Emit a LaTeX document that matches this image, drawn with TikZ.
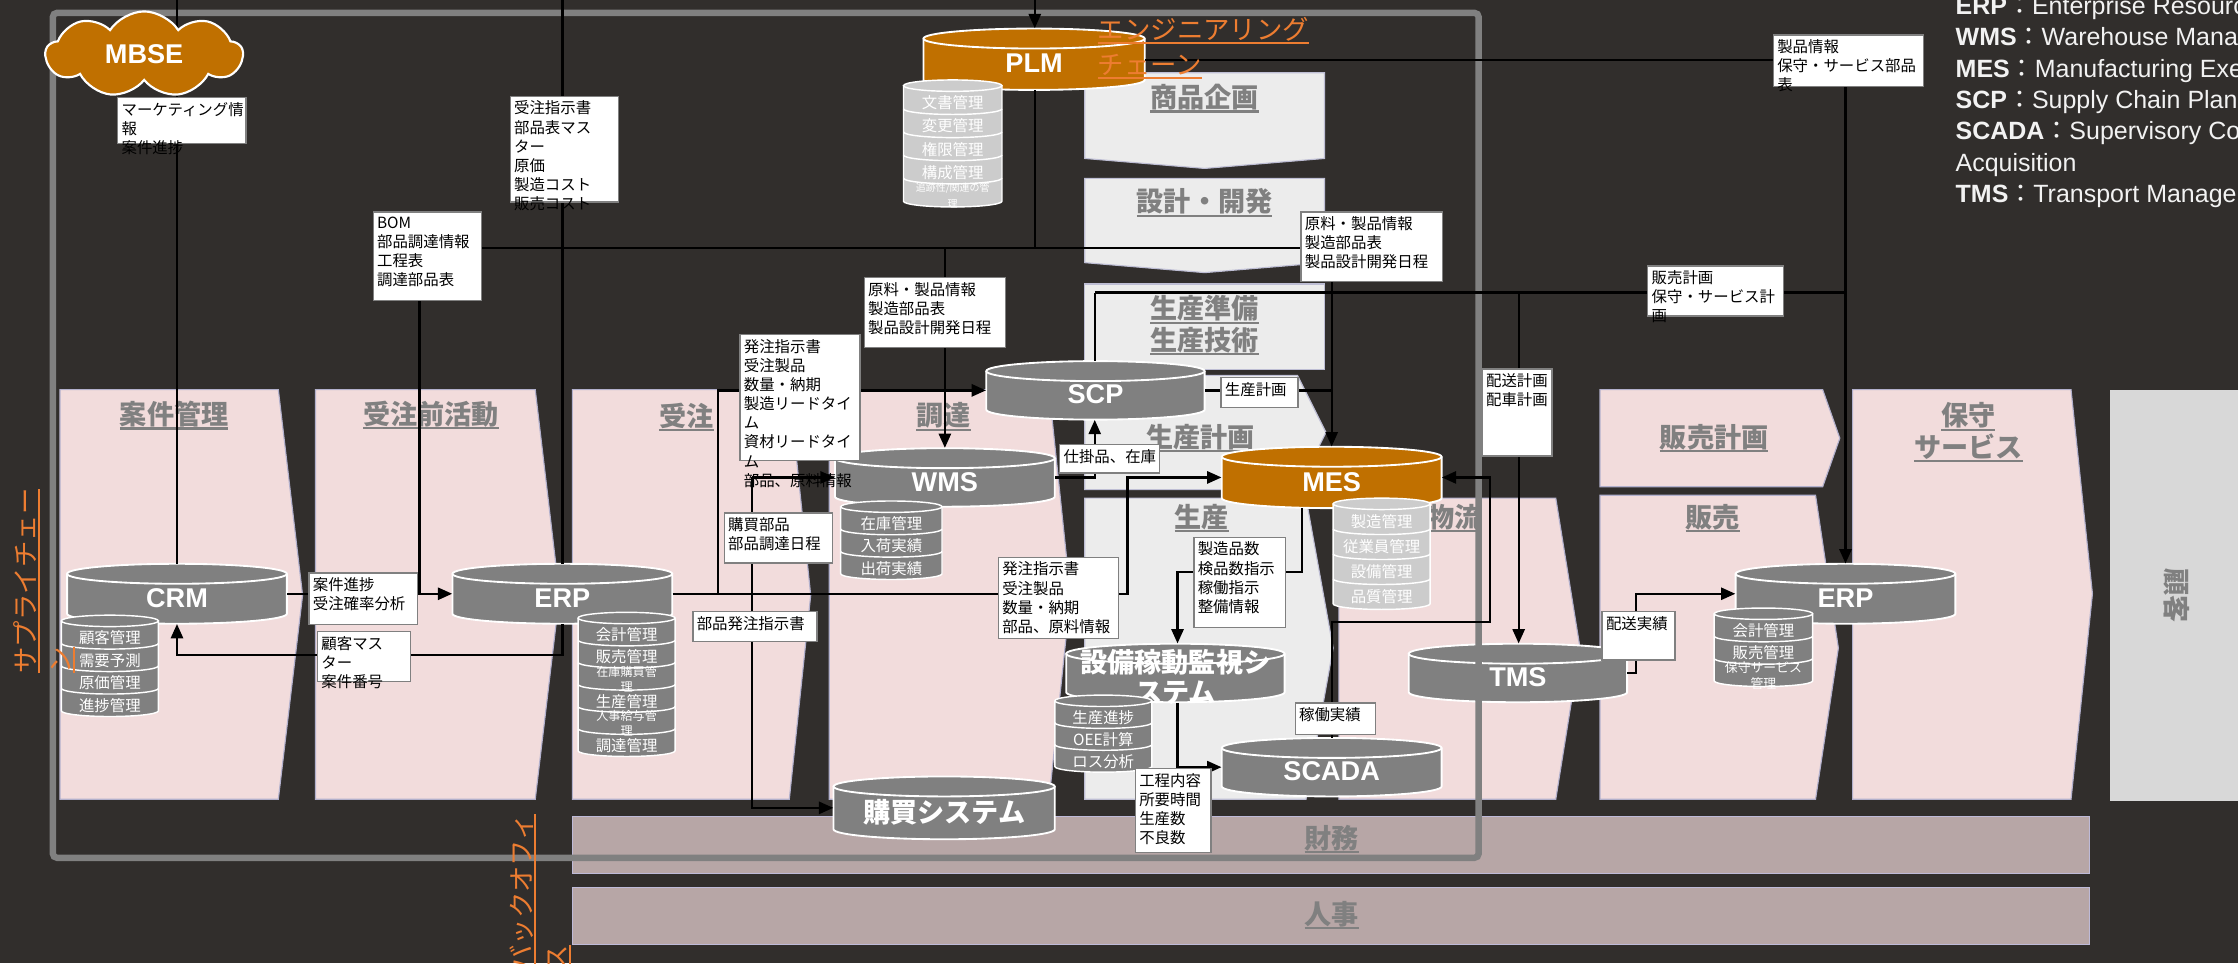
\documentclass[tikz,border=0pt]{standalone}
\usepackage{fontspec}
\setmainfont{Liberation Sans}
\newfontfamily\jp{Noto Sans CJK JP}
\usetikzlibrary{arrows.meta,shapes.symbols,calc}
\pgfdeclarelayer{bg}
\pgfdeclarelayer{fg}
\pgfsetlayers{bg,main,fg}
\definecolor{bgc}{RGB}{49,46,44}
\definecolor{pinkc}{RGB}{242,220,220}
\definecolor{pinkedge}{RGB}{178,176,204}
\definecolor{engc}{RGB}{236,236,236}
\definecolor{engedge}{RGB}{190,190,212}
\definecolor{barc}{RGB}{183,166,166}
\definecolor{baredge}{RGB}{190,186,216}
\definecolor{kokyc}{RGB}{216,216,216}
\definecolor{cylgray}{RGB}{128,128,128}
\definecolor{orangec}{RGB}{192,112,0}
\definecolor{subgray}{RGB}{204,204,204}
\definecolor{txtgray}{RGB}{128,128,128}
\definecolor{orangetxt}{RGB}{237,125,49}
\definecolor{framec}{RGB}{128,128,128}
\definecolor{lblgray}{RGB}{128,128,128}
\definecolor{legendc}{RGB}{242,242,242}
\newcommand\myul[1]{\leavevmode\setbox0=\hbox{#1}\rlap{\rule[-3.4pt]{\wd0}{1.5pt}}\box0}
\tikzset{
 conn/.style={draw=black,line width=1.6pt},
 arr/.style={-{Triangle[length=10pt,width=8.5pt]}},
 cylline/.style={draw=white,line width=1.3pt},
 stline/.style={draw=white,line width=1pt},
 cyltext/.style={text=white,font=\bfseries\fontsize{19}{21}\selectfont,align=center,inner sep=0},
 stacktext/.style={text=white,font=\jp\fontsize{10.8}{11}\selectfont,inner sep=0,align=center},
 lblbox/.style={draw=lblgray,fill=white,line width=0.9pt,inner sep=0},
 lbltext/.style={text=black,font=\jp\fontsize{10.8}{13.4}\selectfont,align=left,inner sep=0},
 pinkbox/.style={fill=pinkc,draw=pinkedge,line width=0.8pt},
 graybox/.style={fill=engc,draw=engedge,line width=0.8pt},
 barbox/.style={fill=barc,draw=baredge,line width=0.8pt},
 proclbl/.style={text=txtgray,font=\jp\bfseries\fontsize{19}{22}\selectfont,align=center,inner sep=0},
 orangelbl/.style={text=orangetxt,font=\jp\fontsize{18.5}{24.5}\selectfont,align=left,inner sep=0},
 legend/.style={text=legendc,font=\fontsize{17.5}{20}\selectfont,inner sep=0},
}
\newcommand\mycyl[7]{%
 \pgfmathsetmacro\mcX{(#2+#4)/2}%
 \pgfmathsetmacro\mcR{(#4-#2)/2}%
 \pgfmathsetmacro\mcT{#3+7}%
 \pgfmathsetmacro\mcB{#5-7}%
 \pgfmathsetmacro\mcY{(#3+#5)/2}%
 \pgfmathsetmacro\mcW{#4-#2}%
 \pgfmathsetmacro\mcH{#5-#3}%
 \fill[#6] (#2,\mcT) -- (#2,\mcB) arc[start angle=180,end angle=0,x radius=\mcR,y radius=7] -- (#4,\mcT) -- cycle;
 \draw[cylline] (#4,\mcT) -- (#4,\mcB) arc[start angle=0,end angle=180,x radius=\mcR,y radius=7] -- (#2,\mcT);
 \filldraw[#6,cylline] (\mcX,\mcT) ellipse[x radius=\mcR,y radius=7];
 \node[inner sep=0,minimum width=\mcW pt,minimum height=\mcH pt] (#1) at (\mcX,\mcY) {};
 \node[cyltext] (#1-t) at ({\mcX},{\mcY+3}) {#7};
}
\newcommand\mystack[7]{%
 \pgfmathsetmacro\msX{(#1+#3)/2}%
 \pgfmathsetmacro\msR{(#3-#1)/2}%
 \pgfmathsetmacro\msT{#2+4}%
 \pgfmathsetmacro\msB{#4-4}%
 \pgfmathsetmacro\msH{(\msB-\msT)/#5}%
 \pgfmathtruncatemacro\msN{#5-1}%
 \fill[#6] (#1,\msT) -- (#1,\msB) arc[start angle=180,end angle=0,x radius=\msR,y radius=4] -- (#3,\msT) -- cycle;
 \draw[stline] (#3,\msT) -- (#3,\msB) arc[start angle=0,end angle=180,x radius=\msR,y radius=4] -- (#1,\msT);
 \filldraw[#6,stline] (\msX,\msT) ellipse[x radius=\msR,y radius=4];
 \foreach \sk in {1,...,\msN} {\draw[stline] ({#3},{\msT+\sk*\msH}) arc[start angle=0,end angle=180,x radius=\msR,y radius=4];}
 \foreach \stxt [count=\sk] in {#7} {\node[stacktext] at ({\msX},{\msT+(\sk-0.5)*\msH+4}) {\stxt};}
}
\newcommand\mylbl[6]{%
 \pgfmathsetmacro\mlW{#4-#2}%
 \pgfmathsetmacro\mlH{#5-#3}%
 \node[lblbox,minimum width=\mlW pt,minimum height=\mlH pt,anchor=north west] (#1) at (#2,#3) {};
 \node[lbltext,anchor=north west] (#1-t) at ({#2+3},{#3+3.5}) {#6};
}
\begin{document}
\begin{tikzpicture}[x=1pt,y=-1pt]
\useasboundingbox (0,0) rectangle (1568,675);
\clip (0,0) rectangle (1568,675);
\begin{pgfonlayer}{bg}
\fill[bgc] (0,0) rectangle (1568,675);
% supply chain boxes
\filldraw[pinkbox] (42,273) -- (195,273) -- (212,417) -- (195,560) -- (42,560) -- cycle;
\filldraw[pinkbox] (221,273) -- (375,273) -- (392,417) -- (375,560) -- (221,560) -- cycle;
\filldraw[pinkbox] (401,273) -- (553,273) -- (568,417) -- (553,560) -- (401,560) -- cycle;
\filldraw[pinkbox] (581,273) -- (735,273) -- (750,417) -- (735,560) -- (581,560) -- cycle;
\filldraw[pinkbox] (938,349) -- (1090,349) -- (1107,454) -- (1090,560) -- (938,560) -- cycle;
\filldraw[pinkbox] (1121,273) -- (1277,273) -- (1289,307) -- (1277,341) -- (1121,341) -- cycle;
\filldraw[pinkbox] (1121,347) -- (1272,347) -- (1288,454) -- (1272,560) -- (1121,560) -- cycle;
\filldraw[pinkbox] (1298,273) -- (1451,273) -- (1466,416) -- (1451,560) -- (1298,560) -- cycle;
% engineering chain boxes
\filldraw[graybox] (760,51) -- (928,51) -- (928,111) -- (844,118) -- (760,111) -- cycle;
\filldraw[graybox] (760,125) -- (928,125) -- (928,184) -- (844,191) -- (760,184) -- cycle;
\filldraw[graybox] (760,199) rectangle (928,259);
\filldraw[graybox] (760,263) -- (909,263) -- (929,303) -- (909,343) -- (760,343) -- cycle;
\filldraw[graybox] (760,349) -- (915,349) -- (934,454) -- (915,560) -- (760,560) -- cycle;
% back office bars
\filldraw[barbox] (401,572) rectangle (1464,612);
\filldraw[barbox] (401,622) rectangle (1464,662);
\fill[kokyc] (1478,273) rectangle (1568,561);
% process labels
\node[proclbl] (p-anken) at (122,291) {\myul{案件管理}};
\node[proclbl] (p-mae) at (302,291) {\myul{受注前活動}};
\node[proclbl] (p-juchu) at (481,292) {\myul{受注}};
\node[proclbl] (p-chotatsu) at (661,292) {\myul{調達}};
\node[proclbl] (p-shohin) at (844,69) {\myul{商品企画}};
\node[proclbl] (p-sekkei) at (844,142) {\myul{設計・開発}};
\node[proclbl] (p-junbi) at (844,228) {\myul{生産準備}\\\myul{生産技術}};
\node[proclbl] (p-keikaku) at (841,307) {\myul{生産計画}};
\node[proclbl] (p-seisan) at (842,363) {\myul{生産}};
\node[proclbl] (p-butsuryu) at (1019,363) {\myul{物流}};
\node[proclbl] (p-hkeikaku) at (1201,307) {\myul{販売計画}};
\node[proclbl] (p-hanbai) at (1200,363) {\myul{販売}};
\node[proclbl] (p-hoshu) at (1379,303) {\myul{保守}\\\myul{サービス}};
\node[proclbl] (p-zaimu) at (933,588) {\myul{財務}};
\node[proclbl] (p-jinji) at (933,641) {\myul{人事}};
\node[proclbl,rotate=-90] (p-kokyaku) at (1525,417) {顧客};
% cylinders
\mycyl{plm}{647}{20}{802}{63}{orangec}{PLM}
\mystack{633}{56}{702}{145}{5}{subgray}{文書管理,変更管理,権限管理,構成管理,\fontsize{7}{8}\selectfont 追跡性/関連の管\\\fontsize{7}{8}\selectfont 理}
\mycyl{crm}{47}{395}{201}{437}{cylgray}{CRM}
\mystack{43}{431}{111}{502}{4}{cylgray}{顧客管理,需要予測,原価管理,進捗管理}
\mycyl{erp1}{317}{395}{471}{437}{cylgray}{ERP}
\mystack{405}{429}{473}{530}{6}{cylgray}{会計管理,販売管理,\fontsize{8.5}{9}\selectfont 在庫購買管\\\fontsize{8.5}{9}\selectfont 理,生産管理,\fontsize{8.5}{9}\selectfont 人事給与管\\\fontsize{8.5}{9}\selectfont 理,調達管理}
\mycyl{scp}{691}{253}{844}{294}{cylgray}{SCP}
\mycyl{wms}{585}{314}{739}{355}{cylgray}{WMS}
\mystack{589}{351}{660}{406}{3}{cylgray}{在庫管理,入荷実績,出荷実績}
\mycyl{mes}{856}{313}{1010}{356}{orangec}{MES}
\mystack{934}{349}{1002}{427}{4}{subgray}{製造管理,従業員管理,設備管理,品質管理}
\mycyl{setsubi}{747}{451}{900}{492}{cylgray}{\jp 設備稼動監視シ\\\jp ステム}
\mystack{739}{487}{807}{541}{3}{cylgray}{生産進捗,OEE計算,ロス分析}
\mycyl{scada}{856}{517}{1010}{558}{cylgray}{SCADA}
\mycyl{kobai}{584}{544}{739}{588}{cylgray}{\jp 購買システム}
\mycyl{tms}{987}{451}{1140}{492}{cylgray}{TMS}
\mycyl{erp2}{1216}{395}{1370}{437}{cylgray}{ERP}
\mystack{1201}{426}{1270}{481}{3}{cylgray}{会計管理,販売管理,\fontsize{9}{10}\selectfont 保守サービス\\\fontsize{9}{10}\selectfont 管理}
% frame
\draw[framec,line width=4.5pt,rounded corners=3pt] (37,9) rectangle (1036,601);
\end{pgfonlayer}
\begin{pgfonlayer}{fg}
\mylbl{mkt}{82}{68}{172}{100}{マーケティング情\\報\\案件進捗}
\mylbl{jushi}{357}{67}{433}{141}{受注指示書\\部品表マス\\ター\\原価\\製造コスト\\販売コスト}
\mylbl{bom}{261}{148}{337}{210}{BOM\\部品調達情報\\工程表\\調達部品表}
\mylbl{gen1}{605}{194}{704}{243}{原料・製品情報\\製造部品表\\製品設計開発日程}
\mylbl{gen2}{911}{148}{1010}{197}{原料・製品情報\\製造部品表\\製品設計開発日程}
\mylbl{hac1}{518}{234}{602}{322}{発注指示書\\受注製品\\数量・納期\\製造リードタイ\\ム\\資材リードタイ\\ム\\部品、原料情報}
\mylbl{kobl}{507}{359}{583}{394}{購買部品\\部品調達日程}
\mylbl{buhin}{485}{428}{572}{449}{部品発注指示書}
\mylbl{anken}{216}{401}{292}{437}{案件進捗\\受注確率分析}
\mylbl{kokyaku}{222}{442}{287}{477}{顧客マス\\ター\\案件番号}
\mylbl{hac2}{699}{390}{783}{447}{発注指示書\\受注製品\\数量・納期\\部品、原料情報}
\mylbl{shikakari}{742}{311}{812}{331}{仕掛品、在庫}
\mylbl{skeikaku}{855}{264}{909}{285}{生産計画}
\mylbl{seizo}{836}{376}{900}{439}{製造品数\\検品数指示\\稼働指示\\整備情報}
\mylbl{kotei}{795}{538}{848}{597}{工程内容\\所要時間\\生産数\\不良数}
\mylbl{kado}{907}{492}{963}{514}{稼働実績}
\mylbl{haiso}{1038}{258}{1087}{319}{配送計画\\配車計画}
\mylbl{hkeikaku}{1154}{186}{1249}{221}{販売計画\\保守・サービス計\\画}
\mylbl{seihin}{1242}{24}{1347}{60}{製品情報\\保守・サービス部品\\表}
\mylbl{hjisseki}{1122}{428}{1173}{462}{配送実績}
\node[cloud,cloud puffs=9,cloud puff arc=115,aspect=2.2,fill=orangec,draw=white,line width=1.5pt,minimum width=138pt,minimum height=60pt,text=white,font=\bfseries\fontsize{19}{21}\selectfont] (mbse) at (101,38) {MBSE};
\node[orangelbl,anchor=north west] (engchain) at (769,12) {\myul{エンジニアリング}\\\myul{チェーン}};
\node[orangelbl,rotate=90,anchor=north west] (supchain) at (9,472) {\myul{サプライチェー}\\\myul{ン}};
\node[orangelbl,rotate=90,anchor=north west] (backoff) at (357,681) {\myul{バックオフィ}\\\myul{ス}};
\node[legend,anchor=base west] (lg1) at (1370,10) {\textbf{ERP}{\jp ：}Enterprise Resource Planning};
\node[legend,anchor=base west] (lg2) at (1370,32) {\textbf{WMS}{\jp ：}Warehouse Management System};
\node[legend,anchor=base west] (lg3) at (1370,54) {\textbf{MES}{\jp ：}Manufacturing Execution System};
\node[legend,anchor=base west] (lg4) at (1370,76) {\textbf{SCP}{\jp ：}Supply Chain Planning};
\node[legend,anchor=base west] (lg5) at (1370,98) {\textbf{SCADA}{\jp ：}Supervisory Control and Data};
\node[legend,anchor=base west] (lg6) at (1370,120) {Acquisition};
\node[legend,anchor=base west] (lg7) at (1370,142) {\textbf{TMS}{\jp ：}Transport Management System};
\end{pgfonlayer}
% connector coordinates
\coordinate (vA) at (124,0);
\coordinate (vB) at (394,0);
\coordinate (vC) at (294,0);
\coordinate (vP) at (725,0);
\coordinate (vW) at (662,0);
\coordinate (vM) at (933,0);
\coordinate (vS) at (767,0);
\coordinate (vT) at (1064,0);
\coordinate (vE) at (1293,0);
\coordinate (vK) at (527,0);
\coordinate (vO) at (503,0);
\coordinate (vX) at (790,0);
\coordinate (vY) at (912,0);
\coordinate (vZ) at (825,0);
\coordinate (vQ) at (1044,0);
\coordinate (vR) at (1146,0);
\coordinate (h42) at (0,42);
\coordinate (h174) at (0,174);
\coordinate (h205) at (0,205);
\coordinate (h273) at (0,273.5);
\coordinate (h334) at (0,334.5);
\coordinate (h401) at (0,401);
\coordinate (h416) at (0,416);
\coordinate (h436) at (0,436);
\coordinate (h459) at (0,459);
\coordinate (h472) at (0,471.5);
\coordinate (h537) at (0,537.5);
\coordinate (h566) at (0,566);
% connectors
\draw[conn] (vA) -- (crm.north -| vA);
\draw[conn] (vB) -- (erp1.north -| vB);
\draw[conn,arr] (erp1.south -| vB) -- (vB |- h459) -- (vA |- h459) -- (crm.south -| vA);
\draw[conn,arr] (crm.east) -- (erp1.west);
\draw[conn] (bom.south -| vC) -- (vC |- h416);
\draw[conn,arr] (vP) -- (plm.north -| vP);
\draw[conn] (plm.south -| vP) -- (vP |- h174);
\draw[conn] (bom.east |- h174) -- (gen2.west |- h174);
\draw[conn,arr] (vW |- h174) -- (wms.north -| vW);
\draw[conn,arr] (gen2.south -| vM) -- (mes.north -| vM);
\draw[conn] (plm.east |- h42) -- (seihin.west |- h42);
\draw[conn,arr] (seihin.south -| vE) -- (erp2.north -| vE);
\draw[conn] (vS |- h205) -- (vE |- h205);
\draw[conn] (vS |- h205) -- (scp.north -| vS);
\draw[conn,arr] (vT |- h205) -- (tms.north -| vT);
\draw[conn] (scp.east |- h273) -- (vM |- h273);
\draw[conn] (erp1.east |- h416) -- (hac2.west |- h416);
\draw[conn,arr] (hac2.east |- h416) -- (vX |- h416) -- (vX |- h334) -- (mes.west |- h334);
\draw[conn,arr] (vO |- h416) -- (vO |- h273) -- (scp.west |- h273);
\draw[conn,arr] (vK |- h334) -- (wms.west |- h334);
\draw[conn,arr] (vK |- h334) -- (vK |- h566) -- (kobai.west |- h566);
\draw[conn,arr] (wms.east |- h334) -- (vS |- h334) -- (scp.south -| vS);
\draw[conn,arr] (mes.south -| vY) -- (vY |- h401) -- (vZ |- h401) -- (setsubi.north -| vZ);
\draw[conn,arr] (setsubi.south -| vZ) -- (vZ |- h537) -- (scada.west |- h537);
\draw[conn,arr] (scada.north -| vM) -- (vM |- h436) -- (vQ |- h436) -- (vQ |- h334) -- (mes.east |- h334);
\draw[conn,arr] (tms.east |- h472) -- (vR |- h472) -- (vR |- h416) -- (erp2.west |- h416);
\end{tikzpicture}
\end{document}
